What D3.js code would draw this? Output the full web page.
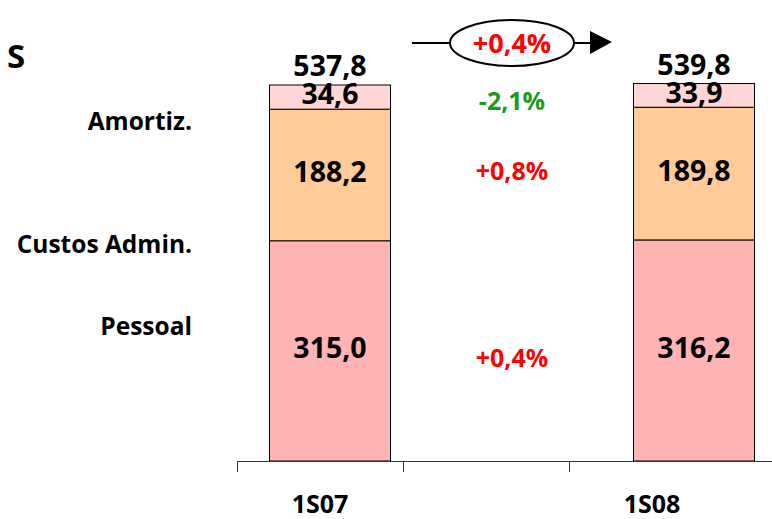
<!DOCTYPE html>
<html>
<head>
<meta charset="utf-8">
<script src="https://cdn.jsdelivr.net/npm/d3@7"></script>
<style>
  body { margin: 0; background: #fff; }
  text { font-family: "Open Sans", sans-serif; font-weight: bold; }
</style>
</head>
<body>
<div id="chart"></div>
<script>
var width = 772,
    height = 519;

// DATA
var periods = ["1S07", "1S08"];
var segments = ["Pessoal", "Custos Admin.", "Amortiz."];
var pessoal = [315.0, 316.2];
var custosAdmin = [188.2, 189.8];
var amortiz = [34.6, 33.9];
var totals = [537.8, 539.8];
var changes = ["+0,4%", "+0,8%", "-2,1%"];   // per segment, same order
var totalChange = "+0,4%";
var axisCats = ["1S07", "", "1S08"];

var colors = ["#ffb3b3", "#ffcc99", "#ffd6d6"];
var changeColors = ["#ff0000", "#ff0000", "#1a9c1a"];

var fmt = function(v) { return d3.format(".1f")(v).replace(".", ","); };

var svg = d3.select("#chart").append("svg")
    .attr("width", width)
    .attr("height", height);

var baseY = 461;

var y = d3.scaleLinear()
    .domain([0, 537.8])
    .range([baseY, 85]);

// bars sit on their own positions, the category axis uses bands
var xBar = d3.scalePoint()
    .domain(periods)
    .range([330, 694]);
var barW = 121;

var xAxis = d3.scaleBand()
    .domain(axisCats)
    .range([237, 735])
    .padding(0);

var rows = periods.map(function(p, i) {
    return { period: p, "Pessoal": pessoal[i], "Custos Admin.": custosAdmin[i], "Amortiz.": amortiz[i] };
});
var stack = d3.stack().keys(segments)(rows);

// BARS
var layer = svg.append("g").attr("class", "bars")
    .selectAll("g")
    .data(stack)
    .enter().append("g")
    .attr("fill", function(d, i) { return colors[i]; });

layer.selectAll("rect")
    .data(function(d) { return d; })
    .enter().append("rect")
    .attr("x", function(d) { return xBar(d.data.period) - barW / 2; })
    .attr("y", function(d) { return y(d[1]); })
    .attr("width", barW)
    .attr("height", function(d) { return y(d[0]) - y(d[1]); })
    .attr("stroke", "#000")
    .attr("stroke-width", 1);

layer.selectAll("text")
    .data(function(d) { return d.map(function(p) { return { p: p, key: d.key }; }); })
    .enter().append("text")
    .attr("x", function(d) { return xBar(d.p.data.period); })
    .attr("y", function(d) { return (y(d.p[0]) + y(d.p[1])) / 2; })
    .attr("dy", "0.25em")
    .attr("text-anchor", "middle")
    .attr("font-size", 28.5)
    .attr("fill", "#000")
    .text(function(d) { return fmt(d.p.data[d.key]); });

// totals
svg.append("g").selectAll("text")
    .data(totals)
    .enter().append("text")
    .attr("x", function(d, i) { return xBar(periods[i]); })
    .attr("y", function(d) { return y(d) - 9; })
    .attr("text-anchor", "middle")
    .attr("font-size", 28.5)
    .attr("fill", "#000")
    .text(function(d) { return fmt(d); });

// segment labels on the left
var labelY = [335, 253, 130];
svg.append("g").selectAll("text")
    .data(segments)
    .enter().append("text")
    .attr("x", 192)
    .attr("y", function(d, i) { return labelY[i]; })
    .attr("text-anchor", "end")
    .attr("font-size", 24.5)
    .attr("fill", "#000")
    .text(function(d) { return d; });

// changes between the bars
var midX = (xBar(periods[0]) + xBar(periods[1])) / 2;
var changeY = [367, 180, 110];
svg.append("g").selectAll("text")
    .data(changes)
    .enter().append("text")
    .attr("x", midX)
    .attr("y", function(d, i) { return changeY[i]; })
    .attr("text-anchor", "middle")
    .attr("font-size", 25)
    .attr("fill", function(d, i) { return changeColors[i]; })
    .text(function(d) { return d; });

// total change bubble with arrow
var bub = svg.append("g").attr("class", "bubble");
bub.append("line")
    .attr("x1", 412).attr("y1", 43)
    .attr("x2", 450).attr("y2", 43)
    .attr("stroke", "#000").attr("stroke-width", 2);
bub.append("line")
    .attr("x1", 574).attr("y1", 43)
    .attr("x2", 592).attr("y2", 43)
    .attr("stroke", "#000").attr("stroke-width", 2);
bub.append("path")
    .attr("d", "M590,31 L612,42 L590,54 Z")
    .attr("fill", "#000");
bub.append("ellipse")
    .attr("cx", midX).attr("cy", 43)
    .attr("rx", 62).attr("ry", 23)
    .attr("fill", "#fff")
    .attr("stroke", "#000").attr("stroke-width", 2);
bub.append("text")
    .attr("x", midX).attr("y", 53)
    .attr("text-anchor", "middle")
    .attr("font-size", 27)
    .attr("fill", "#ff0000")
    .text(totalChange);

// cut-off title letter
svg.append("text")
    .attr("x", 7).attr("y", 68)
    .attr("font-size", 33)
    .attr("fill", "#000")
    .text("S");

// AXIS
var ax = svg.append("g").attr("class", "axis");
ax.append("line")
    .attr("x1", 237).attr("x2", width)
    .attr("y1", baseY + 0.5).attr("y2", baseY + 0.5)
    .attr("stroke", "#333");
ax.selectAll(".tick")
    .data(axisCats)
    .enter().append("line")
    .attr("class", "tick")
    .attr("x1", function(d) { return Math.round(xAxis(d)) + 0.5; })
    .attr("x2", function(d) { return Math.round(xAxis(d)) + 0.5; })
    .attr("y1", baseY).attr("y2", baseY + 11)
    .attr("stroke", "#333");
ax.selectAll("text")
    .data(axisCats.filter(function(d) { return d !== ""; }))
    .enter().append("text")
    .attr("x", function(d) { return xAxis(d) + xAxis.bandwidth() / 2; })
    .attr("y", 513)
    .attr("text-anchor", "middle")
    .attr("font-size", 25)
    .attr("fill", "#000")
    .text(function(d) { return d; });
</script>
</body>
</html>
